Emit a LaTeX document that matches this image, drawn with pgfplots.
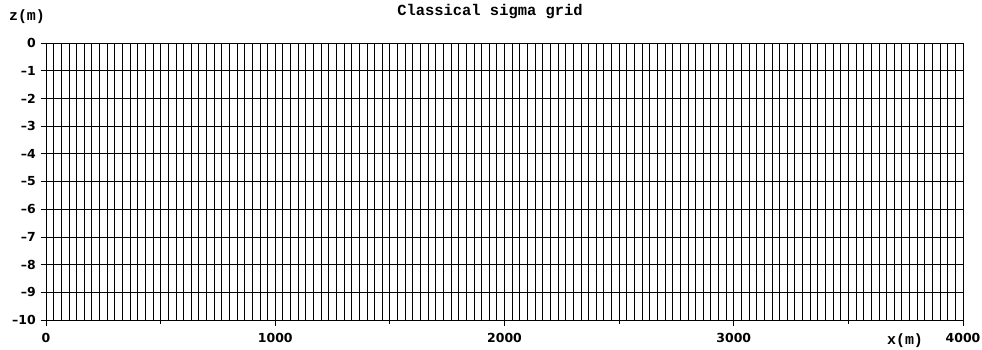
\documentclass[border=0pt]{standalone}
\usepackage{fontspec}
\setmainfont{DejaVu Sans}
\newfontfamily\cour{Liberation Mono}
\usepackage{pgfplots}
\pgfplotsset{compat=1.18}
\begin{document}
\begin{tikzpicture}[x=1bp,y=1bp]
\useasboundingbox (0,0) rectangle (982,349);
\begin{axis}[
  at={(46bp,29bp)}, anchor=south west,
  scale only axis, width=917bp, height=277bp,
  xmin=0, xmax=4000, ymin=-10, ymax=0,
  axis line style={line width=0.9bp},
  tick align=outside, xtick pos=left, ytick pos=left,
  major tick length=5.5bp, minor tick length=3.5bp,
  tick style={black, line width=0.8bp},
  xtick={0,1000,2000,3000,4000},
  minor xtick={500,1500,2500,3500},
  ytick={0,-1,-2,-3,-4,-5,-6,-7,-8,-9,-10},
  yticklabels={0,--1,--2,--3,--4,--5,--6,--7,--8,--9,--10},
  /pgf/number format/assume math mode=true,
  /pgf/number format/1000 sep={},
  ticklabel style={font=\bfseries\fontsize{12.5}{12.5}\selectfont, inner sep=2bp},
  xticklabel style={yshift=-5.5bp},
  yticklabel style={xshift=-2.5bp},
  clip=false,
]
% vertical sigma lines (from z=0 down to z=-10)
\addplot[ycomb, black, line width=0.8bp, mark=none] coordinates {
(0,-10) (33.33,-10) (66.67,-10) (100,-10) (133.33,-10) (166.67,-10) (200,-10) (233.33,-10) (266.67,-10) (300,-10)
(333.33,-10) (366.67,-10) (400,-10) (433.33,-10) (466.67,-10) (500,-10) (533.33,-10) (566.67,-10) (600,-10) (633.33,-10)
(666.67,-10) (700,-10) (733.33,-10) (766.67,-10) (800,-10) (833.33,-10) (866.67,-10) (900,-10) (933.33,-10) (966.67,-10)
(1000,-10) (1033.33,-10) (1066.67,-10) (1100,-10) (1133.33,-10) (1166.67,-10) (1200,-10) (1233.33,-10) (1266.67,-10) (1300,-10)
(1333.33,-10) (1366.67,-10) (1400,-10) (1433.33,-10) (1466.67,-10) (1500,-10) (1533.33,-10) (1566.67,-10) (1600,-10) (1633.33,-10)
(1666.67,-10) (1700,-10) (1733.33,-10) (1766.67,-10) (1800,-10) (1833.33,-10) (1866.67,-10) (1900,-10) (1933.33,-10) (1966.67,-10)
(2000,-10) (2033.33,-10) (2066.67,-10) (2100,-10) (2133.33,-10) (2166.67,-10) (2200,-10) (2233.33,-10) (2266.67,-10) (2300,-10)
(2333.33,-10) (2366.67,-10) (2400,-10) (2433.33,-10) (2466.67,-10) (2500,-10) (2533.33,-10) (2566.67,-10) (2600,-10) (2633.33,-10)
(2666.67,-10) (2700,-10) (2733.33,-10) (2766.67,-10) (2800,-10) (2833.33,-10) (2866.67,-10) (2900,-10) (2933.33,-10) (2966.67,-10)
(3000,-10) (3033.33,-10) (3066.67,-10) (3100,-10) (3133.33,-10) (3166.67,-10) (3200,-10) (3233.33,-10) (3266.67,-10) (3300,-10)
(3333.33,-10) (3366.67,-10) (3400,-10) (3433.33,-10) (3466.67,-10) (3500,-10) (3533.33,-10) (3566.67,-10) (3600,-10) (3633.33,-10)
(3666.67,-10) (3700,-10) (3733.33,-10) (3766.67,-10) (3800,-10) (3833.33,-10) (3866.67,-10) (3900,-10) (3933.33,-10) (3966.67,-10)
(4000,-10)
};
% horizontal sigma levels (from x=0 to x=4000)
\addplot[xcomb, black, line width=0.8bp, mark=none] coordinates {
(4000,0) (4000,-1) (4000,-2) (4000,-3) (4000,-4) (4000,-5) (4000,-6) (4000,-7) (4000,-8) (4000,-9) (4000,-10)
};
\end{axis}
\node[font=\cour\bfseries\fontsize{15.5}{15.5}\selectfont, anchor=base] at (490,334) {Classical sigma grid};
\node[font=\cour\bfseries\fontsize{15}{15}\selectfont, anchor=base] at (27,329) {z(m)};
\node[font=\cour\bfseries\fontsize{15}{15}\selectfont, anchor=base] at (905,5) {x(m)};
\end{tikzpicture}
\end{document}
